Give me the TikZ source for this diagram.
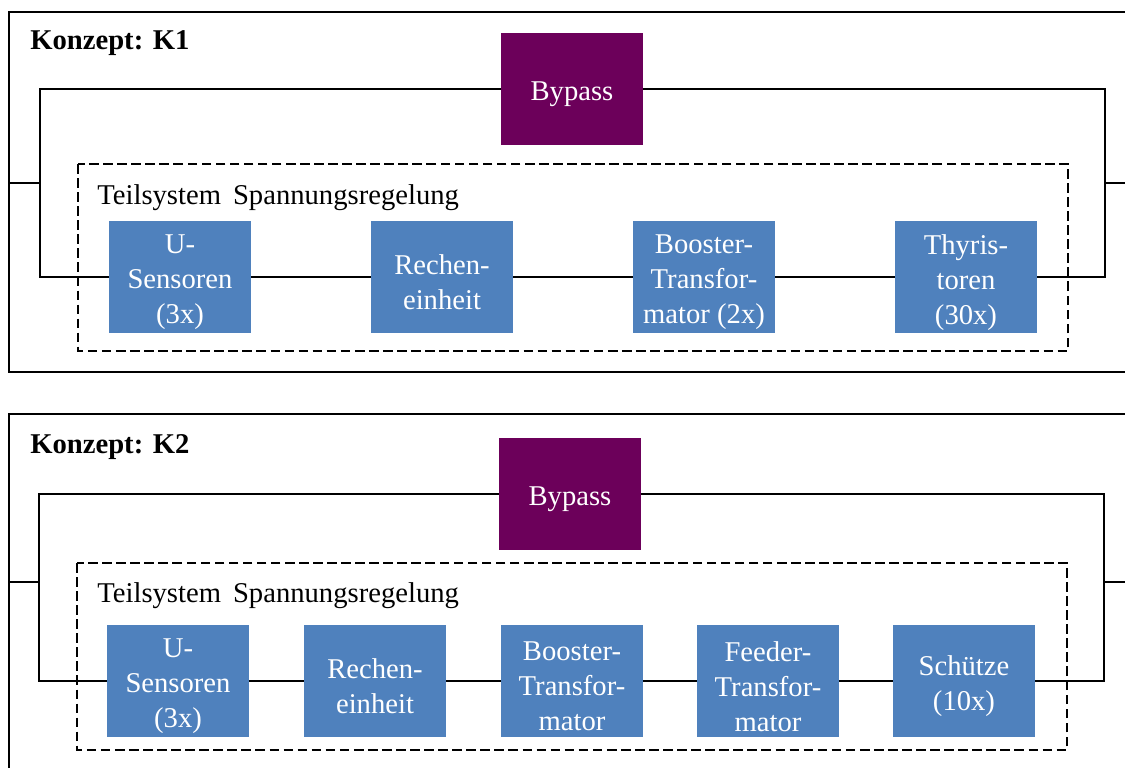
\documentclass[tikz,border=0pt]{standalone}
\usepackage{fontspec}
\setmainfont{LiberationSerif}[Extension=.ttf,UprightFont=*-Regular,BoldFont=*-Bold,ItalicFont=*-Italic,BoldItalicFont=*-BoldItalic]
\usetikzlibrary{positioning}
\definecolor{blockblue}{RGB}{79,129,189}
\definecolor{bypasspurple}{RGB}{108,0,90}
\tikzset{
  block/.style={fill=blockblue,inner sep=0pt,
    minimum width=2.84cm,minimum height=2.24cm},
  blocktext/.style={text=white,align=center,inner sep=0pt,yshift=-0.11cm},
  bypassbox/.style={block,fill=bypasspurple},
  title/.style={anchor=base west,inner sep=0pt,font=\fontsize{16.3}{20}\selectfont\bfseries},
  caption/.style={anchor=base west,inner sep=0pt},
  frame/.style={line width=1.7pt},
  wire/.style={line width=1.6pt},
  subsys/.style={line width=1.5pt,dash pattern=on 5.5pt off 2.5pt},
}
\begin{document}
\begin{tikzpicture}[x=0.02cm,y=-0.02cm,font=\fontsize{16.3}{20}\selectfont]
\useasboundingbox (0,0) rectangle (1125,767);
\clip (0,0) rectangle (1125,767);
% Konzept K1
\draw[frame] (9,12) rectangle (1140,372);
\node[title] (titleA) at (30,50) {Konzept: K1};
\draw[subsys] (78,164) rectangle (1068,351);
\node[caption] (subA) at (97,204) {Teilsystem\hspace{0.42em}Spannungsregelung};
\node[bypassbox,label={[blocktext]center:Bypass}] (bypassA) at (572,89) {};
\node[block,label={[blocktext]center:{U-\\Sensoren\\(3x)}}] (usensA) at (180,277) {};
\node[block,label={[blocktext]center:{Rechen-\\einheit}}] (rechenA) at (442,277) {};
\node[block,label={[blocktext]center:{Booster-\\Transfor-\\mator (2x)}}] (boostA) at (704,277) {};
\node[block,label={[blocktext]center:{Thyris-\\toren\\(30x)}}] (thyrA) at (966,277) {};
\coordinate (lbusA) at (40,183);
\coordinate (rbusA) at (1105,183);
\coordinate (inA) at (9,183);
\coordinate (outA) at (1140,183);
\draw[wire] (usensA) -- (rechenA);
\draw[wire] (rechenA) -- (boostA);
\draw[wire] (boostA) -- (thyrA);
\draw[wire] (bypassA.west) -| (lbusA) |- (usensA.west);
\draw[wire] (bypassA.east) -| (rbusA) |- (thyrA.east);
\draw[wire] (inA) -- (lbusA);
\draw[wire] (rbusA) -- (outA);
% Konzept K2
\draw[frame] (9,414) rectangle (1140,790);
\node[title] (titleB) at (30,453) {Konzept: K2};
\draw[subsys] (77,563) rectangle (1067,750);
\node[caption] (subB) at (97,602) {Teilsystem\hspace{0.42em}Spannungsregelung};
\node[bypassbox,label={[blocktext]center:Bypass}] (bypassB) at (570,494) {};
\node[block,label={[blocktext]center:{U-\\Sensoren\\(3x)}}] (usensB) at (178,681) {};
\node[block,label={[blocktext]center:{Rechen-\\einheit}}] (rechenB) at (375,681) {};
\node[block,label={[blocktext]center:{Booster-\\Transfor-\\mator}}] (boostB) at (572,681) {};
\node[block,label={[blocktext]center:{Feeder-\\Transfor-\\mator}}] (feedB) at (768,681) {};
\node[block,label={[blocktext]center:{Schütze\\(10x)}}] (schuetzB) at (964,681) {};
\coordinate (lbusB) at (39,582);
\coordinate (rbusB) at (1104,582);
\coordinate (inB) at (9,582);
\coordinate (outB) at (1140,582);
\draw[wire] (usensB) -- (rechenB);
\draw[wire] (rechenB) -- (boostB);
\draw[wire] (boostB) -- (feedB);
\draw[wire] (feedB) -- (schuetzB);
\draw[wire] (bypassB.west) -| (lbusB) |- (usensB.west);
\draw[wire] (bypassB.east) -| (rbusB) |- (schuetzB.east);
\draw[wire] (inB) -- (lbusB);
\draw[wire] (rbusB) -- (outB);
\end{tikzpicture}
\end{document}
